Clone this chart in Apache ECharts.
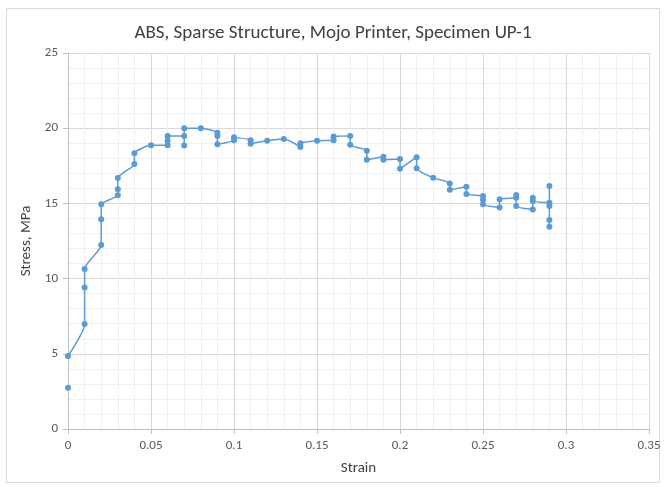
<!DOCTYPE html>
<html><head><meta charset="utf-8">
<script src="https://cdn.jsdelivr.net/npm/echarts@6/dist/echarts.min.js"></script>
<style>html,body{margin:0;padding:0;background:#fff}#c{width:666px;height:487px}</style>
</head><body><div id="c"></div>
<script>
var titleText = 'ABS, Sparse Structure, Mojo Printer, Specimen UP-1';
var xName = 'Strain';
var yName = 'Stress, MPa';
var strain = [0,0.01,0.01,0.01,0.02,0.02,0.02,0.03,0.03,0.03,0.04,0.04,0.05,0.06,0.06,0.06,0.07,0.07,0.07,0.08,0.09,0.09,0.09,0.1,0.1,0.11,0.11,0.12,0.13,0.14,0.14,0.15,0.16,0.16,0.17,0.17,0.18,0.18,0.19,0.19,0.2,0.2,0.21,0.21,0.22,0.23,0.23,0.24,0.24,0.25,0.25,0.25,0.26,0.26,0.27,0.27,0.27,0.28,0.28,0.28,0.29,0.29,0.29,0.29,0.29];
var stress = [4.85,6.98,9.4,10.64,12.23,13.94,14.94,15.54,15.94,16.69,17.62,18.33,18.86,18.86,19.17,19.48,19.48,18.85,20.0,20.0,19.7,19.48,18.93,19.2,19.39,19.2,18.97,19.17,19.28,18.75,19.0,19.17,19.2,19.44,19.48,18.9,18.5,17.9,18.1,17.9,17.95,17.3,18.07,17.33,16.7,16.33,15.9,16.1,15.62,15.5,15.25,14.94,14.72,15.27,15.38,15.56,14.83,14.6,15.38,15.16,15.05,16.16,14.83,13.9,13.45];
var isoStrain = [0];
var isoStress = [2.75];

var FONT = "Carlito, Calibri, Lato, sans-serif";
var lineData = strain.map(function(s,i){return [s, stress[i]];});
var isoData = isoStrain.map(function(s,i){return [s, isoStress[i]];});
var chart = echarts.init(document.getElementById('c'), null, {renderer:'canvas'});
chart.setOption({
  backgroundColor:'#ffffff',
  animation:false,
  title:{text:titleText,left:'center',top:19,textStyle:{fontFamily:FONT,fontSize:19,fontWeight:'normal',color:'#404040'}},
  graphic:[{type:'rect',shape:{x:6.5,y:8.5,width:653,height:474},style:{fill:'none',stroke:'#d9d9d9',lineWidth:1},silent:true}],
  grid:{left:68,right:17,top:53,bottom:58,containLabel:false},
  xAxis:{type:'value',min:0,max:0.35,interval:0.05,name:xName,nameLocation:'middle',nameGap:32,
    nameTextStyle:{fontFamily:FONT,fontSize:15,color:'#404040'},
    axisLine:{show:true,onZero:false,lineStyle:{color:'#bfbfbf'}},
    axisTick:{show:true,length:5,lineStyle:{color:'#bfbfbf'}},
    axisLabel:{fontFamily:FONT,fontSize:13,color:'#595959',margin:10},
    splitLine:{show:true,lineStyle:{color:'#d9d9d9'}},
    minorTick:{show:false,splitNumber:5},
    minorSplitLine:{show:true,lineStyle:{color:'#f0f0f0'}}},
  yAxis:{type:'value',min:0,max:25,interval:5,name:yName,nameLocation:'middle',nameGap:31,nameRotate:90,
    nameTextStyle:{fontFamily:FONT,fontSize:15,color:'#404040'},
    axisLine:{show:true,lineStyle:{color:'#bfbfbf'}},
    axisTick:{show:true,length:5,lineStyle:{color:'#bfbfbf'}},
    axisLabel:{fontFamily:FONT,fontSize:13,color:'#595959',margin:10},
    splitLine:{show:true,lineStyle:{color:'#d9d9d9'}},
    minorTick:{show:false,splitNumber:5},
    minorSplitLine:{show:true,lineStyle:{color:'#f0f0f0'}}},
  series:[
    {type:'line',data:lineData,smooth:0.2,symbol:'circle',symbolSize:6,
     lineStyle:{color:'#5b9bd5',width:1.5},itemStyle:{color:'#5b9bd5'}},
    {type:'line',data:isoData,symbol:'circle',symbolSize:6,showSymbol:true,
     lineStyle:{color:'#5b9bd5',width:1.5},itemStyle:{color:'#5b9bd5'}}
  ]
});
</script></body></html>
